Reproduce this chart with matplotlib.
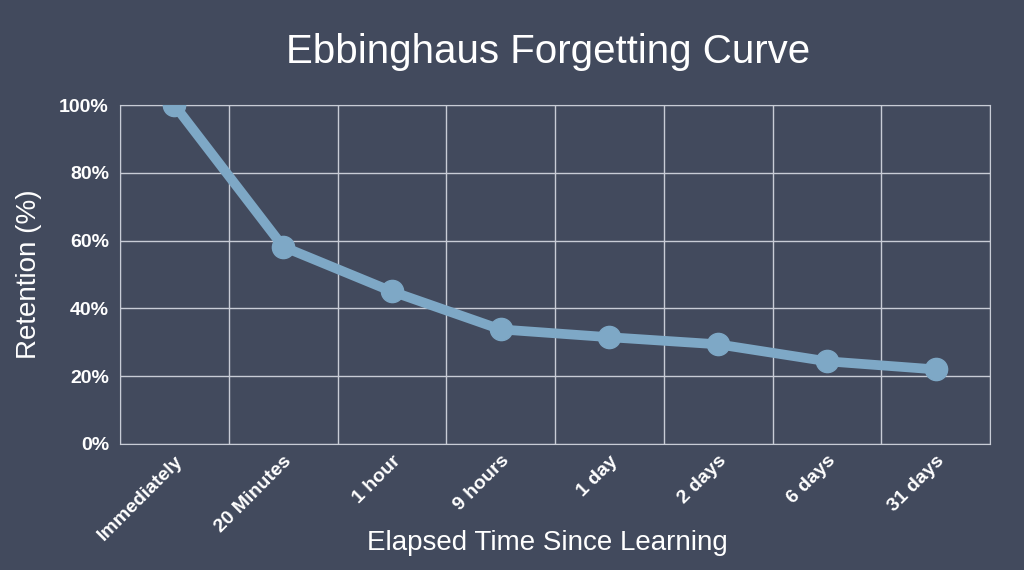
import matplotlib.pyplot as plt
import numpy as np

plt.rcParams['font.family'] = ['Liberation Sans', 'DejaVu Sans']

# data
labels = ['Immediately', '20 Minutes', '1 hour', '9 hours', '1 day', '2 days', '6 days', '31 days']
retention = [100, 58.2, 45.0, 33.8, 31.5, 29.4, 24.4, 22.0]
yticks = [0, 20, 40, 60, 80, 100]

bg = '#424a5d'
line_col = '#7ea8c6'

fig = plt.figure(figsize=(10.24, 5.7), dpi=100, facecolor=bg)
ax = fig.add_axes([120 / 1024, 1 - 444 / 570, 870 / 1024, 339 / 570], facecolor=bg)

x = np.arange(len(labels))
ax.plot(x, retention, color=line_col, lw=7, marker='o', ms=16, solid_capstyle='round', zorder=3)

ax.set_xlim(-0.5, len(labels) - 0.5)
ax.set_ylim(0, 100)
ax.set_yticks(yticks)
ax.set_yticklabels([f'{v}%' for v in yticks], color='white', fontsize=14, fontweight='bold')
ax.set_xticks(x)
ax.set_xticklabels(labels, rotation=45, ha='right', rotation_mode='anchor',
                   color='white', fontsize=14, fontweight='bold')
ax.set_xticks(np.arange(-0.5, len(labels)), minor=True)
ax.tick_params(axis='y', length=0, which='both', pad=8)
ax.tick_params(axis='x', length=0, which='both', pad=6)
ax.grid(False)
ax.grid(True, axis='x', which='minor', color='#c8ccd6', lw=1)
ax.grid(True, axis='y', which='major', color='#c8ccd6', lw=1)
for s in ax.spines.values():
    s.set_color('#c8ccd6')

ax.set_ylabel('Retention (%)', color='white', fontsize=20, labelpad=12)
fig.text(0.535, 1 - 543 / 570, 'Elapsed Time Since Learning', color='white', fontsize=20,
         ha='center', va='center')
fig.text(0.535, 1 - 52 / 570, 'Ebbinghaus Forgetting Curve', color='white', fontsize=29,
         ha='center', va='center')

fig.savefig('out.png', dpi=100, facecolor=bg)
